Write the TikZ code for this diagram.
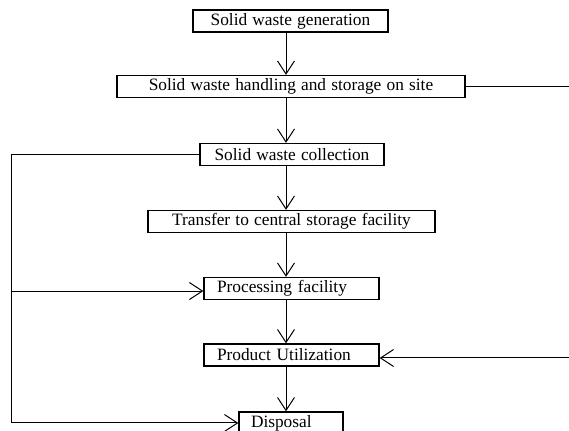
\documentclass[tikz,border=0pt]{standalone}
\usepackage{fontspec}
\setmainfont{Liberation Serif}[WordSpace=1.2]
\usetikzlibrary{arrows.meta}

\tikzset{
    stage/.style={draw, line width=1pt, rectangle, inner sep=0pt, minimum height=16.5pt,
        font=\fontsize{13}{14}\selectfont},
    stageL/.style={stage, align=left, inner xsep=9.75pt}
}

\begin{document}
\begin{tikzpicture}[x=0.75pt, y=-0.75pt, line width=0.75pt, >={Straight Barb[length=9.75pt,width=12.75pt]}]
    % 画布范围：569 x 431
    \useasboundingbox (0,0) rectangle (569,431);
    % 方框
    \node[stage, minimum width=146.25pt] (gen) at (290.5,21) {Solid waste generation};
    \node[stage, minimum width=261pt] (hand) at (291,86.5) {Solid waste handling and storage on site};
    \node[stage, minimum width=138pt] (coll) at (292,154.5) {Solid waste collection};
    \node[stage, minimum width=215.25pt] (trans) at (291.5,221.5) {Transfer to central storage facility};
    \node[stageL, text width=111.75pt] (proc) at (291.5,288.5) {Processing facility};
    \node[stageL, text width=111.75pt] (util) at (291.5,355) {Product Utilization};
    \node[stageL, text width=60pt, inner xsep=9pt] (disp) at (291,423) {Disposal};
    % 辅助坐标
    \coordinate (spine) at (286,0);
    \coordinate (leftrail) at (11,0);
    \coordinate (rightend) at (569,0);
    % 主线
    \foreach \a/\b in {gen/hand, hand/coll, coll/trans, trans/proc, proc/util, util/disp}
        \draw[->] (\a.south -| spine) -- (\b.north -| spine);
    % 左侧回路
    \draw[->] (coll.west) -- (coll.west -| leftrail) -- (disp.west -| leftrail) -- (disp.west);
    \draw[->] ([yshift=-1.9pt]proc.west -| leftrail) -- ([yshift=-1.9pt]proc.west);
    % 右侧
    \draw (hand.east) -- (hand.east -| rightend);
    \draw[->] ([yshift=-2.25pt]util.east -| rightend) -- ([yshift=-2.25pt]util.east);
\end{tikzpicture}
\end{document}
